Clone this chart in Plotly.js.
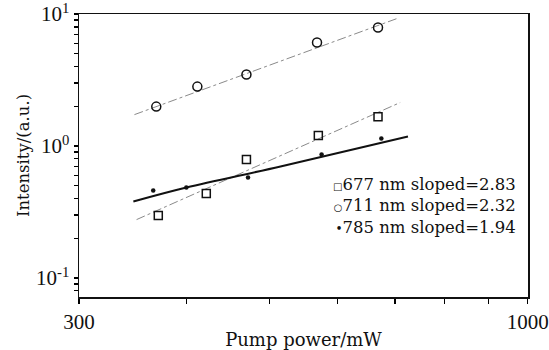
<!DOCTYPE html>
<html>
<head>
<meta charset="utf-8">
<script src="https://cdn.plot.ly/plotly-3.0.1.min.js"></script>
<style>html,body{margin:0;padding:0;background:#fff;}#chart{width:549px;height:350px;}</style>
</head>
<body>
<div id="chart"></div>
<script>
// Pump power (mW) and intensity (a.u.)
const power677 = [371, 422, 470, 570, 669];
const int677   = [0.297, 0.437, 0.79, 1.20, 1.67];
const power711 = [369, 412, 470, 568, 669];
const int711   = [1.99, 2.82, 3.48, 6.08, 7.9];
const power785 = [366, 400, 472, 575, 675];
const int785   = [0.46, 0.485, 0.577, 0.863, 1.14];

// Fitted lines as drawn in the reference
const fit677x = [350, 710];
const fit677y = [0.277, 2.136];
const fit711x = [348, 704];
const fit711y = [1.73, 9.25];
const fit785x = [347, 400, 515, 725];
const fit785y = [0.38, 0.485, 0.70, 1.18];

const legendLabels = ["677 nm sloped=2.83", "711 nm sloped=2.32", "785 nm sloped=1.94"];
const legendSymbols = ["\u25A1", "\u25CB", "\u2022"];

// Tick positions (labelled decades plus unlabelled minor ticks)
const yTickVals = [0.08, 0.09, 0.1, 0.2, 0.3, 0.4, 0.5, 0.6, 0.7, 0.8, 0.9, 1, 2, 3, 4, 5, 6, 7, 8, 9, 10];
const yTickText = ["", "", "10<sup>-1</sup>", "", "", "", "", "", "", "", "", "10<sup>0</sup>", "", "", "", "", "", "", "", "", "10<sup>1</sup>"];
const xTickVals = [300, 400, 500, 600, 700, 800, 900, 1000];
const xTickText = ["300", "", "", "", "", "", "", "1000"];

const SERIF = "Liberation Serif, Times New Roman, serif";
const WIDE = "DejaVu Serif, serif";

const traces = [
  {x: fit711x, y: fit711y, mode: "lines", line: {color: "#8a8a8a", width: 1, dash: "dashdot"}, showlegend: false, hoverinfo: "skip"},
  {x: fit677x, y: fit677y, mode: "lines", line: {color: "#8a8a8a", width: 1, dash: "dashdot"}, showlegend: false, hoverinfo: "skip"},
  {x: fit785x, y: fit785y, mode: "lines", line: {color: "#111", width: 2, shape: "spline"}, showlegend: false, hoverinfo: "skip"},
  {x: power677, y: int677, mode: "markers", name: legendLabels[0], marker: {symbol: "square-open", size: 8, color: "#111", line: {width: 1.5}}, showlegend: false},
  {x: power711, y: int711, mode: "markers", name: legendLabels[1], marker: {symbol: "circle-open", size: 9, color: "#111", line: {width: 1.5}}, showlegend: false},
  {x: power785, y: int785, mode: "markers", name: legendLabels[2], marker: {symbol: "circle", size: 4.5, color: "#111"}, showlegend: false}
];

const legendText = legendLabels.map((t, i) =>
  '<span style="font-size:' + (i === 2 ? 12 : 10) + 'px">' + legendSymbols[i] + '</span>' + t
).join("<br>");

const layout = {
  width: 549, height: 350,
  margin: {l: 79, r: 21, t: 14, b: 53},
  paper_bgcolor: "#fff", plot_bgcolor: "#fff",
  showlegend: false,
  font: {family: SERIF, color: "#111"},
  xaxis: {
    type: "log",
    range: [Math.log10(299.9), Math.log10(1000.5)],
    tickmode: "array", tickvals: xTickVals, ticktext: xTickText,
    ticks: "outside", ticklen: 5, tickwidth: 1.3, tickcolor: "#000",
    showgrid: false, zeroline: false,
    showline: true, linecolor: "#111", linewidth: 1.5, mirror: true,
    ticklabeloverflow: "allow",
    tickfont: {family: SERIF, size: 21, color: "#111"},
    title: {text: "Pump power/mW", font: {family: WIDE, size: 18, color: "#111"}, standoff: 8}
  },
  yaxis: {
    type: "log",
    range: [-1.144, 1.0005],
    tickmode: "array", tickvals: yTickVals, ticktext: yTickText,
    ticks: "outside", ticklen: 4, tickwidth: 1.3, tickcolor: "#000",
    showgrid: false, zeroline: false,
    showline: true, linecolor: "#111", linewidth: 1.5, mirror: true,
    ticklabeloverflow: "allow",
    tickfont: {family: SERIF, size: 21, color: "#111"},
    title: {text: "Intensity/(a.u.)", font: {family: WIDE, size: 16.5, color: "#111"}, standoff: 2}
  },
  annotations: [{
    xref: "paper", yref: "paper",
    x: 0.978, y: 0.32,
    xanchor: "right", yanchor: "middle", align: "right",
    showarrow: false,
    text: legendText,
    font: {family: WIDE, size: 16.5, color: "#111"}
  }]
};

Plotly.newPlot("chart", traces, layout, {displayModeBar: false, staticPlot: true});
</script>
</body>
</html>
